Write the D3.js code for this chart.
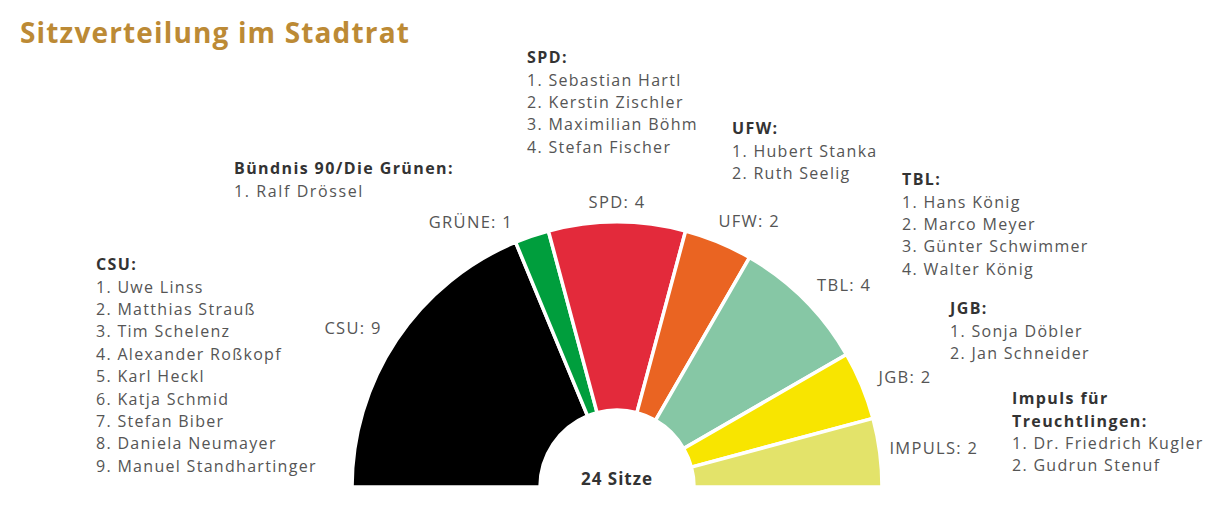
<!DOCTYPE html>
<html>
<head>
<meta charset="utf-8">
<script src="https://cdn.jsdelivr.net/npm/d3@7"></script>
<style>
  html, body { margin: 0; padding: 0; background: #fff; }
  svg { display: block; font-family: "Open Sans", "Noto Sans", sans-serif; }
</style>
</head>
<body>
<svg id="chart" width="1216" height="512"></svg>
<script>
// ---- data ----
const parties = ["CSU", "GRÜNE", "SPD", "UFW", "TBL", "JGB", "IMPULS"];
const seats = [9, 1, 4, 2, 4, 2, 2];
const colors = ["#000000", "#009e3d", "#e32a3b", "#ea6422", "#86c7a5", "#f8e500", "#e3e36a"];
const totalLabel = "24 Sitze";
const title = "Sitzverteilung im Stadtrat";

const listHeaders = [
  ["CSU:"],
  ["Bündnis 90/Die Grünen:"],
  ["SPD:"],
  ["UFW:"],
  ["TBL:"],
  ["JGB:"],
  ["Impuls für", "Treuchtlingen:"]
];
const listMembers = [
  ["1. Uwe Linss", "2. Matthias Strauß", "3. Tim Schelenz", "4. Alexander Roßkopf", "5. Karl Heckl", "6. Katja Schmid", "7. Stefan Biber", "8. Daniela Neumayer", "9. Manuel Standhartinger"],
  ["1. Ralf Drössel"],
  ["1. Sebastian Hartl", "2. Kerstin Zischler", "3. Maximilian Böhm", "4. Stefan Fischer"],
  ["1. Hubert Stanka", "2. Ruth Seelig"],
  ["1. Hans König", "2. Marco Meyer", "3. Günter Schwimmer", "4. Walter König"],
  ["1. Sonja Döbler", "2. Jan Schneider"],
  ["1. Dr. Friedrich Kugler", "2. Gudrun Stenuf"]
];

// ---- layout ----
const svg = d3.select("#chart");
const cx = 617, cy = 487, rOuter = 265, rInner = 77, rLabel = 283;
const lineH = 22.4;
const listPos = [[96, 266], [234, 170], [527, 59], [732, 130], [902, 181], [950, 310], [1012, 400]];
// label collision tweaks: angle (degrees) and radius (px)
const labelNudge = [0, 2.8, 0, 1.5, 0, 0, 0.3];
const labelRadNudge = [0, 0, 0, 0, 0, 0, -8];

svg.append("text")
  .attr("x", 20).attr("y", 43)
  .attr("font-size", 28).attr("font-weight", 700)
  .attr("letter-spacing", 1.15)
  .attr("fill", "#bc8a35")
  .text(title);

const pie = d3.pie().sort(null).value(d => d)
  .startAngle(-Math.PI / 2).endAngle(Math.PI / 2);
const arcs = pie(seats);
const arc = d3.arc().innerRadius(rInner).outerRadius(rOuter);

const g = svg.append("g").attr("transform", `translate(${cx},${cy})`);
g.selectAll("path.slice").data(arcs).join("path")
  .attr("class", "slice")
  .attr("d", arc)
  .attr("fill", (d, i) => colors[i])
  .attr("stroke", "#fff").attr("stroke-width", 3.5).attr("stroke-linejoin", "round");

g.selectAll("text.lbl").data(arcs).join("text")
  .attr("class", "lbl")
  .each(function (d, i) {
    const a = (d.startAngle + d.endAngle) / 2 - labelNudge[i] * Math.PI / 180;
    const r = rLabel + labelRadNudge[i];
    const x = Math.sin(a) * r, y = -Math.cos(a) * r;
    const anchor = Math.abs(x) < 20 ? "middle" : (x < 0 ? "end" : "start");
    d3.select(this).attr("x", x).attr("y", y).attr("text-anchor", anchor);
  })
  .attr("dominant-baseline", "middle")
  .attr("font-size", 16.5).attr("letter-spacing", 1.3).attr("fill", "#555")
  .text((d, i) => `${parties[i]}: ${seats[i]}`);

g.append("text")
  .attr("x", 0).attr("y", -7)
  .attr("text-anchor", "middle").attr("dominant-baseline", "middle")
  .attr("font-size", 17).attr("font-weight", 700).attr("letter-spacing", 1)
  .attr("fill", "#333")
  .text(totalLabel);

listHeaders.forEach((hdr, i) => {
  const [x0, y0] = listPos[i];
  const grp = svg.append("g");
  hdr.forEach((h, j) => {
    grp.append("text")
      .attr("x", x0).attr("y", y0 + j * lineH)
      .attr("dominant-baseline", "middle")
      .attr("font-size", 16).attr("font-weight", 700).attr("letter-spacing", 1.4)
      .attr("fill", "#333")
      .text(h);
  });
  listMembers[i].forEach((m, j) => {
    grp.append("text")
      .attr("x", x0).attr("y", y0 + (hdr.length + j) * lineH)
      .attr("dominant-baseline", "middle")
      .attr("font-size", 16).attr("fill", "#555")
      .attr("letter-spacing", i === 1 ? 1.6 : 1.3)
      .text(m);
  });
});
</script>
</body>
</html>
